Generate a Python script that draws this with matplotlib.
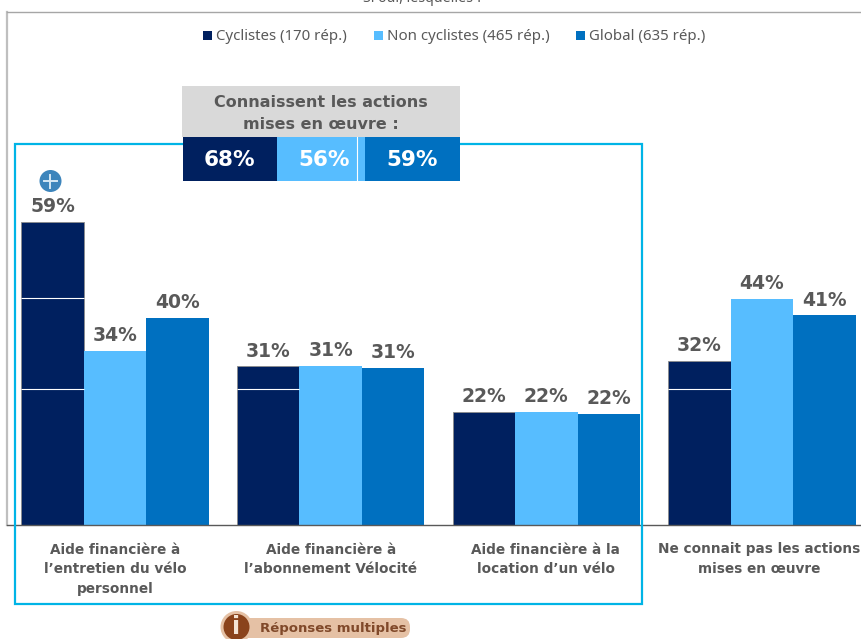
import matplotlib
matplotlib.use("Agg")
import matplotlib.pyplot as plt
from matplotlib.patches import Rectangle, Circle, FancyBboxPatch
import numpy as np

W, H = 862, 639
BASE_Y = 525        # baseline, pixels from top
PX_PER_PCT = 5.135
GROUP_STEP = 215.67
FIRST_CENTER = 115.0
BAR_W = 62.4

categories = ["Aide financière à\nl’entretien du vélo\npersonnel",
              "Aide financière à\nl’abonnement Vélocité",
              "Aide financière à la\nlocation d’un vélo",
              "Ne connait pas les actions\nmises en œuvre"]
cyclistes = [59.1, 30.9, 22.0, 32.0]
non_cyclistes = [33.9, 31.0, 22.0, 44.0]
global_ = [40.4, 30.6, 21.6, 40.8]
series_names = ["Cyclistes (170 rép.)", "Non cyclistes (465 rép.)", "Global (635 rép.)"]
header_values = [68, 56, 59]

NAVY = "#00205F"
LIGHT = "#57BDFF"
BLUE = "#0070C0"
GREY_TXT = "#595959"
colors = [NAVY, LIGHT, BLUE]

plt.rcParams['font.family'] = ['DejaVu Sans']

fig = plt.figure(figsize=(W / 100, H / 100), dpi=100)

# main axes fills the figure, scale chosen so the bars land on the right pixels
ax = fig.add_axes([0, 0, 1, 1])
ax.set_xlim(-FIRST_CENTER / GROUP_STEP, (W - FIRST_CENTER) / GROUP_STEP)
ax.set_ylim(-(H - BASE_Y) / PX_PER_PCT, BASE_Y / PX_PER_PCT)
ax.axis("off")

x = np.arange(len(categories))
bw = BAR_W / GROUP_STEP
for i, vals in enumerate([cyclistes, non_cyclistes, global_]):
    pos = x + (i - 1) * bw
    if i == 0:
        ax.bar(pos, vals, width=bw, color=colors[i], edgecolor="#8C8C8C", linewidth=0.6, zorder=3)
    else:
        ax.bar(pos, vals, width=bw, color=colors[i], zorder=3)
    for p, v in zip(pos, vals):
        ax.text(p, v + 2.95, f"{v:.0f}%", ha="center", va="center", fontsize=13.5,
                fontweight="bold", color=GREY_TXT, zorder=5)

# white lines left on the navy bars
for level in [44.2, 26.4]:
    ax.hlines(level, -1.5 * bw, -0.5 * bw, color="white", lw=0.8, zorder=4)
ax.hlines(26.4, 1 - 1.5 * bw, 1 - 0.5 * bw, color="white", lw=0.8, zorder=4)
ax.hlines(26.4, 3 - 1.5 * bw, 3 - 0.5 * bw, color="white", lw=0.8, zorder=4)

label_shift = [0, 0, -0.002, -0.014]
for xi, cat, sh in zip(x, categories, label_shift):
    ax.text(xi + sh, -(542.5 - BASE_Y) / PX_PER_PCT, cat, ha="center", va="top",
            fontsize=9.8, fontweight="bold", color=GREY_TXT, linespacing=1.52, zorder=5)

# overlay in pixel coordinates for the frame, boxes and notes
ov = fig.add_axes([0, 0, 1, 1], facecolor="none")
ov.set_xlim(0, W)
ov.set_ylim(H, 0)
ov.axis("off")

ov.plot([7, 7], [BASE_Y, 11.5], color="#BFBFBF", lw=1.6, zorder=1)
ov.plot([7, W], [11.5, 11.5], color="#A6A6A6", lw=1.0, zorder=1)
ov.plot([7, W], [BASE_Y, BASE_Y], color="#595959", lw=1.0, zorder=6)
ov.add_patch(Rectangle((15, 144), 627, 460, fill=False, ec="#00B4E6", lw=1.6, zorder=6))

ov.text(423, -2, "Si oui, lesquelles ?", ha="center", va="center", fontsize=10.2,
        family="Noto Sans", color=GREY_TXT)

# legend
leg_x = [203, 374, 576]
for lx, name, c in zip(leg_x, series_names, colors):
    ov.add_patch(Rectangle((lx, 31), 9, 9, color=c, lw=0, zorder=7))
    ov.text(lx + 13, 36.5, name, ha="left", va="center", fontsize=10.8, family="Noto Sans",
            color=GREY_TXT, zorder=7)

# header box
ov.add_patch(Rectangle((182, 86), 278, 51, color="#D9D9D9", lw=0, zorder=7))
ov.text(321, 113.5, "Connaissent les actions\nmises en œuvre :", ha="center", va="center", fontsize=11.5,
        fontweight="bold", color=GREY_TXT, linespacing=1.55, zorder=8)
cells = [(183, 94), (277, 88), (365, 95)]
for (cx, cw), c, v, tx in zip(cells, colors, header_values, [229.5, 324.5, 412]):
    ov.add_patch(Rectangle((cx, 137), cw, 44, color=c, lw=0, zorder=7))
    ov.text(tx, 160, f"{v}%", ha="center", va="center", fontsize=15.5, fontweight="bold",
            color="white", zorder=8)
ov.plot([357.5, 357.5], [137, 181], color="white", lw=0.8, zorder=8)

# plus icon over first bar
ov.add_patch(Circle((50.5, 181), 11, color="#3D85BC", lw=0, zorder=7))
ov.plot([44, 57], [181, 181], color="#D5E8F5", lw=1.4, zorder=8)
ov.plot([50.5, 50.5], [174.5, 187.5], color="#D5E8F5", lw=1.4, zorder=8)

# note at the bottom
ov.add_patch(FancyBboxPatch((232, 618), 178, 20, boxstyle="round,pad=0,rounding_size=9",
                            fc="#E5C1A5", ec="none", zorder=7, clip_on=False))
ov.add_patch(Circle((236.5, 627), 16, color="#E5C1A5", lw=0, zorder=7))
ov.add_patch(Circle((236.5, 627), 13, color="#8A431C", lw=0, zorder=8))
ov.text(236.5, 627.5, "i", ha="center", va="center", fontsize=17, fontweight="bold", color="#F3E3D5", zorder=9)
ov.text(333, 628.5, "Réponses multiples", ha="center", va="center", fontsize=9.5, fontweight="bold",
        color="#80492A", zorder=9)

fig.savefig("out.png", dpi=100)
